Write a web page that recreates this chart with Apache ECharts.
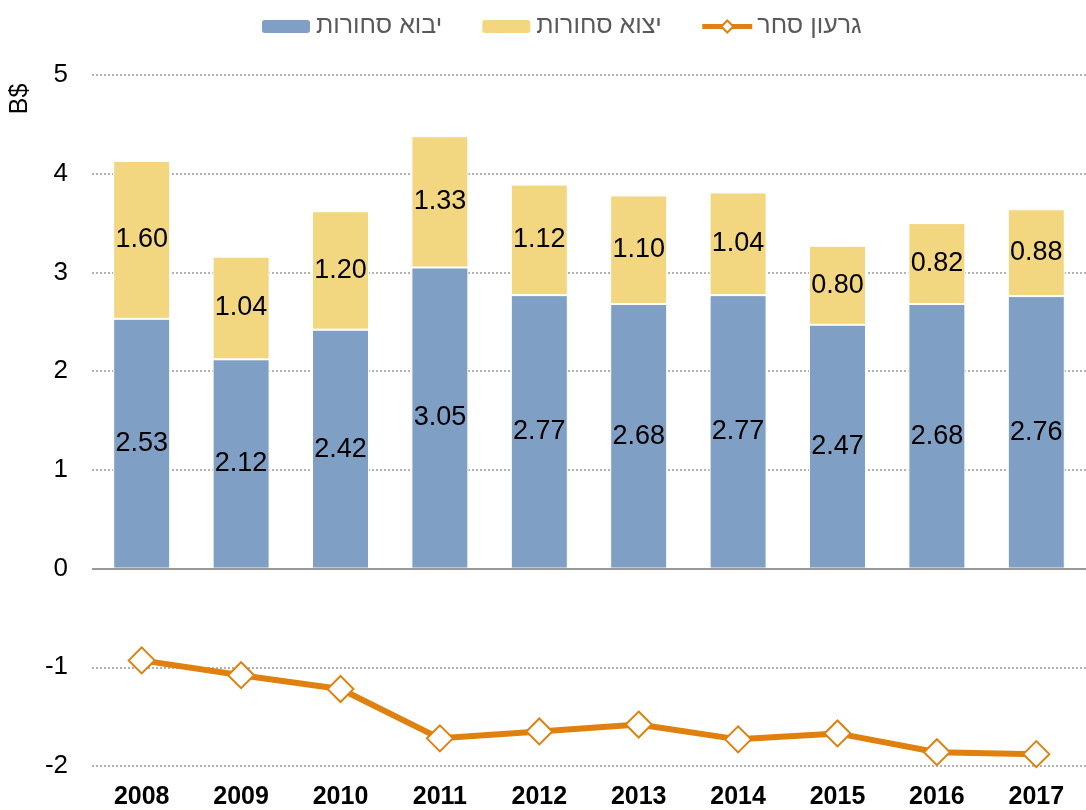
<!DOCTYPE html>
<html>
<head>
<meta charset="utf-8">
<script src="https://cdn.jsdelivr.net/npm/echarts@6/dist/echarts.min.js"></script>
<style>
  html, body { margin: 0; padding: 0; background: #fff; }
  #chart { width: 1086px; height: 810px; }
</style>
</head>
<body>
<div id="chart"></div>
<script>
// trade figures, billions of dollars
var years = ['2008', '2009', '2010', '2011', '2012', '2013', '2014', '2015', '2016', '2017'];
var imports = [2.53, 2.12, 2.42, 3.05, 2.77, 2.68, 2.77, 2.47, 2.68, 2.76];
var exports = [1.60, 1.04, 1.20, 1.33, 1.12, 1.10, 1.04, 0.80, 0.82, 0.88];
var deficit = [-0.93, -1.08, -1.22, -1.72, -1.65, -1.58, -1.73, -1.67, -1.86, -1.88];

var font = '"Liberation Sans", Arial, sans-serif';
var orange = '#E0800E';

var chart = echarts.init(document.getElementById('chart'));

function twoDigits(p) { return p.value.toFixed(2); }

chart.setOption({
    animation: false,
    textStyle: { fontFamily: font },
    legend: {
        top: 9,
        left: 255,
        itemWidth: 50,
        itemHeight: 15,
        itemGap: 38,
        textStyle: { fontSize: 25, color: '#595959', fontFamily: font },
        data: [
            { name: 'יבוא סחורות' },
            { name: 'יצוא סחורות' },
            { name: 'גרעון סחר', lineStyle: { width: 5 }, itemStyle: { borderWidth: 2 } }
        ]
    },
    grid: { left: 92, top: 75, width: 1004, height: 692 },
    graphic: [{
        type: 'text',
        x: 20, y: 99,
        rotation: Math.PI / 2,
        style: {
            text: 'B$', fontSize: 25, fontFamily: font, fill: '#000',
            align: 'center', verticalAlign: 'middle'
        }
    }],
    xAxis: {
        type: 'category',
        data: years,
        axisLine: { show: false },
        axisTick: { show: false },
        axisLabel: { margin: 19, fontSize: 25, fontWeight: 'bold', color: '#000' }
    },
    yAxis: {
        type: 'value',
        min: -2, max: 5, interval: 1,
        axisLine: { show: false },
        axisTick: { show: false },
        axisLabel: { margin: 24, fontSize: 26, color: '#000' },
        splitLine: { lineStyle: { type: [2, 2], color: '#999', width: 1.5 } }
    },
    series: [{
        name: 'יבוא סחורות',
        type: 'bar',
        stack: 'trade',
        barWidth: 57,
        data: imports,
        itemStyle: { color: '#7F9FC4', borderColor: '#fff', borderWidth: 1 },
        label: { show: true, position: 'inside', fontSize: 27, color: '#000', formatter: twoDigits },
        markLine: {
            silent: true,
            symbol: 'none',
            label: { show: false },
            lineStyle: { type: 'solid', color: '#999', width: 2 },
            data: [{ yAxis: 0 }]
        }
    }, {
        name: 'יצוא סחורות',
        type: 'bar',
        stack: 'trade',
        barWidth: 57,
        data: exports,
        itemStyle: { color: '#F2D680', borderColor: '#fff', borderWidth: 1 },
        label: { show: true, position: 'inside', fontSize: 27, color: '#000', formatter: twoDigits }
    }, {
        name: 'גרעון סחר',
        type: 'line',
        data: deficit,
        symbol: 'diamond',
        symbolSize: 26,
        lineStyle: { color: orange, width: 6 },
        itemStyle: { color: '#fff', borderColor: orange, borderWidth: 2 },
        z: 5
    }]
});
</script>
</body>
</html>
